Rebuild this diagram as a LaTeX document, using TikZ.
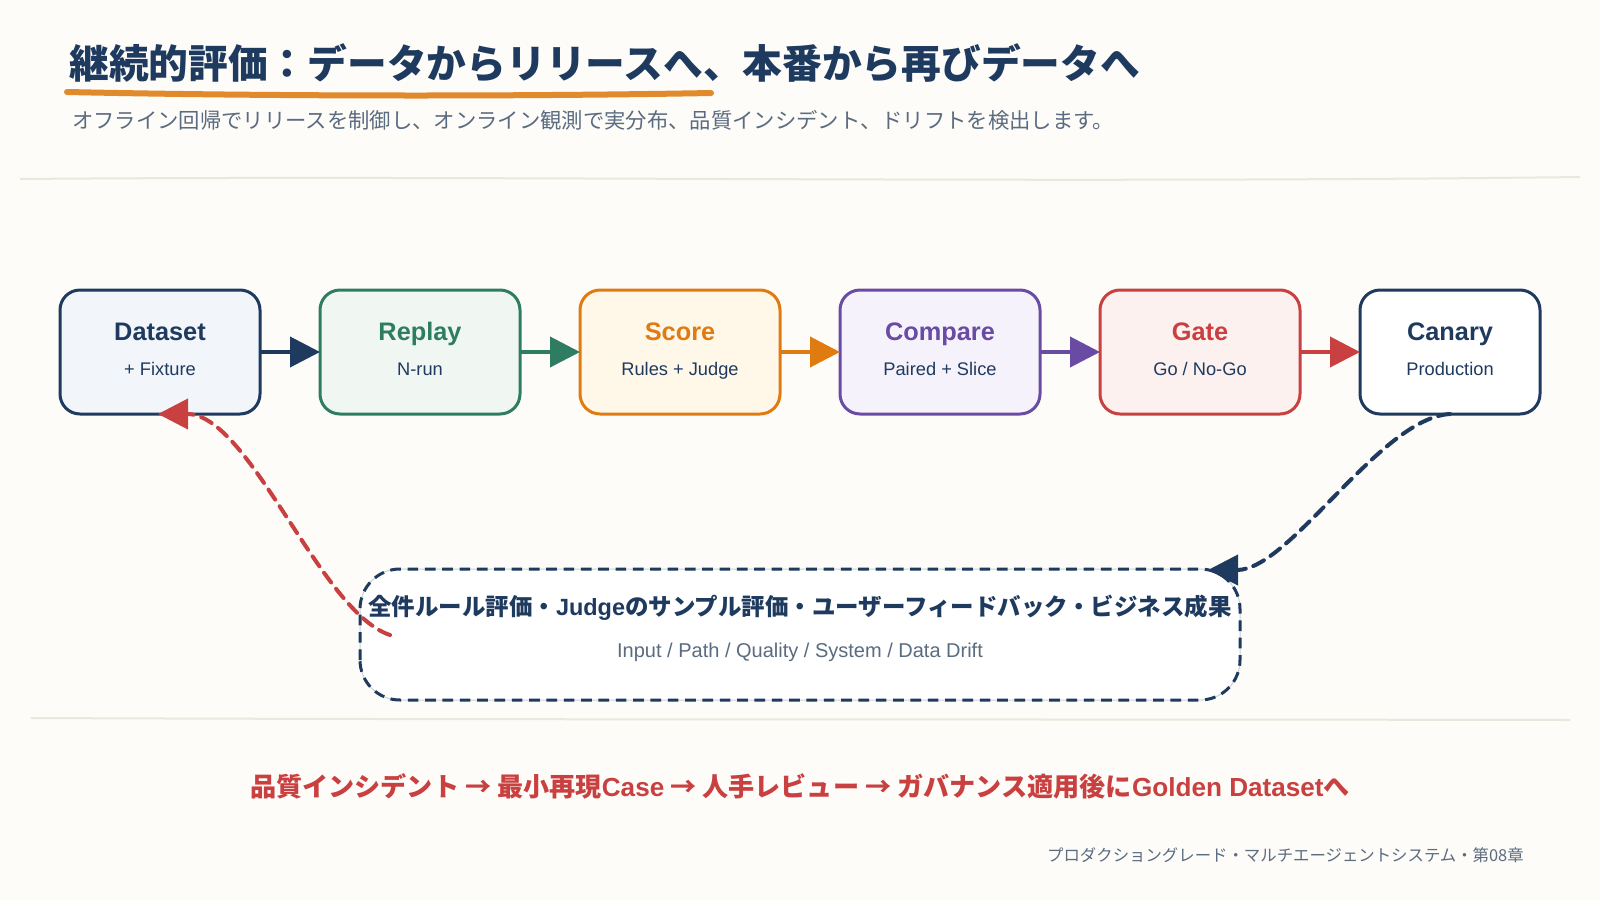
\documentclass[tikz,border=0pt]{standalone}
\usepackage{fontspec}
\setmainfont{Liberation Sans}
\newfontfamily\jp{Noto Sans CJK JP}
\newfontfamily\lat{Liberation Sans}
\usetikzlibrary{arrows.meta}
\definecolor{bg}{HTML}{FDFCF8}
\definecolor{navy}{HTML}{1E3A5F}
\definecolor{grn}{HTML}{2E7D62}
\definecolor{org}{HTML}{E07B12}
\definecolor{pur}{HTML}{6A4BA3}
\definecolor{rd}{HTML}{C94040}
\definecolor{sub}{HTML}{5B6B80}
\definecolor{sep}{HTML}{ECE7DD}
\definecolor{uline}{HTML}{E08A2B}
\definecolor{dsfill}{HTML}{F2F6FB}
\definecolor{rpfill}{HTML}{F0F7F3}
\definecolor{scfill}{HTML}{FFF7E8}
\definecolor{cpfill}{HTML}{F5F2FB}
\definecolor{gtfill}{HTML}{FDF1F0}
\definecolor{fbgray}{HTML}{C8D0DA}
\tikzset{
  stage/.style={draw, rectangle, rounded corners=15pt, line width=2.25pt,
    minimum width=150pt, minimum height=93pt, inner sep=0pt, outer sep=0pt},
  ttl/.style={anchor=base, inner sep=0pt, font=\lat\bfseries\fontsize{19}{22}\selectfont},
  stsub/.style={anchor=base, inner sep=0pt, text=navy, font=\lat\fontsize{13.7}{16}\selectfont},
  flow/.style={line width=3pt, -{Triangle[length=22.5pt,width=22.5pt]}},
  loopar/.style={line width=3pt, dash pattern=on 9pt off 6pt, line cap=round,
    -{Triangle[length=22.5pt,width=22.5pt]}},
}
\begin{document}
\begin{tikzpicture}[x=0.75pt,y=-0.75pt]
\useasboundingbox (0,0) rectangle (1600,900);
\fill[bg] (0,0) rectangle (1600,900);

% title
\node[anchor=base west, inner sep=0pt, text=navy, font=\jp\bfseries\fontsize{29.8}{34}\selectfont] (title) at (69,78) {継続的評価：データからリリースへ、本番から再びデータへ};
\draw[uline, line width=4.5pt, line cap=round] (67,92) .. controls (300,97) and (550,96) .. (711,93);
\node[anchor=base west, inner sep=0pt, text=sub, font=\jp\fontsize{16}{18}\selectfont] (subtitle) at (72,128) {オフライン回帰でリリースを制御し、オンライン観測で実分布、品質インシデント、ドリフトを検出します。};

% separators
\draw[sep, line width=1.5pt] (20,179) .. controls (500,175) and (1000,184) .. (1580,177);
\draw[sep, line width=1.5pt] (31,718) .. controls (500,720) and (1000,719) .. (1570,720);

% stages
\node[stage, draw=navy, fill=dsfill] (ds) at (160,352) {};
\node[ttl, text=navy] (dsT) at (160,340) {Dataset};
\node[stsub] (dsS) at (160,375) {+ Fixture};

\node[stage, draw=grn, fill=rpfill] (rp) at (420,352) {};
\node[ttl, text=grn] (rpT) at (420,340) {Replay};
\node[stsub] (rpS) at (420,375) {N-run};

\node[stage, draw=org, fill=scfill] (sc) at (680,352) {};
\node[ttl, text=org] (scT) at (680,340) {Score};
\node[stsub] (scS) at (680,375) {Rules + Judge};

\node[stage, draw=pur, fill=cpfill] (cp) at (940,352) {};
\node[ttl, text=pur] (cpT) at (940,340) {Compare};
\node[stsub] (cpS) at (940,375) {Paired + Slice};

\node[stage, draw=rd, fill=gtfill] (gt) at (1200,352) {};
\node[ttl, text=rd] (gtT) at (1200,340) {Gate};
\node[stsub] (gtS) at (1200,375) {Go / No-Go};

\node[stage, draw=navy, fill=white, minimum width=135pt] (cn) at (1450,352) {};
\node[ttl, text=navy] (cnT) at (1450,340) {Canary};
\node[stsub] (cnS) at (1450,375) {Production};

\draw[flow, navy] (ds.east) -- (rp.west);
\draw[flow, grn] (rp.east) -- (sc.west);
\draw[flow, org] (sc.east) -- (cp.west);
\draw[flow, pur] (cp.east) -- (gt.west);
\draw[flow, rd] (gt.east) -- (cn.west);

% feedback box
\node[rectangle, rounded corners=30pt, fill=white, draw=fbgray, line width=0.75pt,
  minimum width=660pt, minimum height=98.25pt, inner sep=0pt, outer sep=0pt] (fb) at (800,634.5) {};
\draw[navy, line width=2.25pt, dash pattern=on 8pt off 5pt, rounded corners=30pt]
  (fb.south west) rectangle (fb.north east);
\node[anchor=base, inner sep=0pt, text=navy, font=\jp\bfseries\fontsize{17.6}{20}\selectfont] (fbL1) at (800,615)
  {全件ルール評価・{\lat Judge}のサンプル評価・ユーザーフィードバック・ビジネス成果};
\node[anchor=base, inner sep=0pt, text=sub, font=\lat\fontsize{15}{18}\selectfont] (fbL2) at (800,657)
  {Input / Path / Quality / System / Data Drift};

% loop connectors
\coordinate (rstart) at (390,635);
\coordinate (rtip) at (158,414);
\coordinate (ntip) at (1208,570);
\draw[loopar, rd] (rstart) .. controls (320,612) and (250,414) .. (rtip);
\draw[loopar, navy] (cn.south) .. controls (1380,418) and (1290,570) .. (ntip);

% bottom line
\node[anchor=base, inner sep=0pt, text=rd, font=\jp\bfseries\fontsize{19.6}{23}\selectfont] (flowtxt) at (800,796)
  {品質インシデント → 最小再現{\lat Case} → 人手レビュー → ガバナンス適用後に{\lat Golden Dataset}へ};

% footer
\node[anchor=base east, inner sep=0pt, text=sub, font=\jp\fontsize{12.3}{15}\selectfont] (footer) at (1524,861)
  {プロダクショングレード・マルチエージェントシステム・第08章};
\end{tikzpicture}
\end{document}
